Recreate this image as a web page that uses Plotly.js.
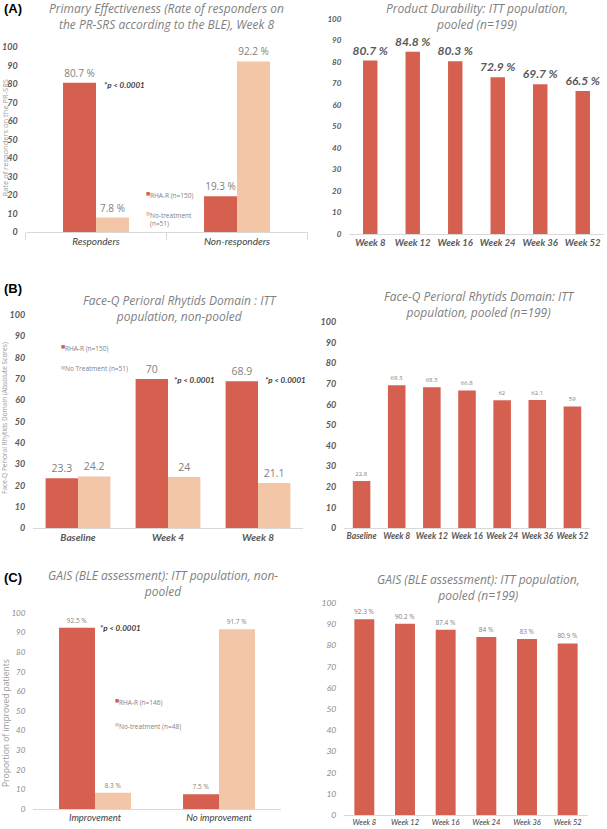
<!DOCTYPE html>
<html>
<head>
<meta charset="utf-8">
<script src="https://cdn.plot.ly/plotly-3.0.1.min.js"></script>
<style>html,body{margin:0;padding:0;background:#fff}</style>
</head>
<body>
<div id="myDiv" style="width:607px;height:829px"></div>
<script>
// (A) primary effectiveness + durability
var respCats = ['Responders', 'Non-responders'];
var respRHA = [80.7, 19.3];
var respNoTx = [7.8, 92.2];

var weeks = ['Week 8', 'Week 12', 'Week 16', 'Week 24', 'Week 36', 'Week 52'];
var durability = [80.7, 84.8, 80.3, 72.9, 69.7, 66.5];

// (B) Face-Q perioral rhytids
var faceqCats = ['Baseline', 'Week 4', 'Week 8'];
var faceqRHA = [23.3, 70, 68.9];
var faceqNoTx = [24.2, 24, 21.1];

var faceqWeeks = ['Baseline', 'Week 8', 'Week 12', 'Week 16', 'Week 24', 'Week 36', 'Week 52'];
var faceqPooled = [22.8, 69.3, 68.3, 66.8, 62, 62.1, 59];

// (C) GAIS
var gaisCats = ['Improvement', 'No improvement'];
var gaisRHA = [92.5, 7.5];
var gaisNoTx = [8.3, 91.7];
var gaisPooled = [92.3, 90.2, 87.4, 84, 83, 80.9];

var yTicks = [0, 10, 20, 30, 40, 50, 60, 70, 80, 90, 100];

var RED = '#d6604f';
var PEACH = '#f3c6a7';
var GREY = '#7f7f7f';
var DARK = '#404040';
var TFONT = '"Open Sans", sans-serif';
var LFONT = 'Lato, sans-serif';

var W = 607, H = 829;
function px(x) { return x / W; }
function py(y) { return 1 - y / H; }

function pct(arr) { return arr.map(v => v + ' %'); }
function plain(arr) { return arr.map(v => '' + v); }

function bar(x, y, ax, color, width, offset, text, tfont) {
    return {
        type: 'bar', x: x, y: y,
        xaxis: 'x' + ax, yaxis: 'y' + ax,
        width: width, offset: offset,
        marker: { color: color },
        text: text, textposition: 'outside', textfont: tfont,
        constraintext: 'none', cliponaxis: false,
        hoverinfo: 'skip', showlegend: false
    };
}

var data = [
    bar(respCats, respRHA, '', RED, 0.234, -0.234, pct(respRHA), { family: TFONT, size: 10, color: GREY }),
    bar(respCats, respNoTx, '', PEACH, 0.234, 0, pct(respNoTx), { family: TFONT, size: 10, color: GREY }),
    bar(weeks, durability, '2', RED, 0.34, -0.17, pct(durability), { family: LFONT, size: 12, color: '#595959', weight: 'bold', style: 'italic' }),
    bar(faceqCats, faceqRHA, '3', RED, 0.36, -0.36, plain(faceqRHA), { family: TFONT, size: 10.5, color: GREY }),
    bar(faceqCats, faceqNoTx, '3', PEACH, 0.36, 0, plain(faceqNoTx), { family: TFONT, size: 10.5, color: GREY }),
    bar(faceqWeeks, faceqPooled, '4', RED, 0.5, -0.25, plain(faceqPooled), { family: TFONT, size: 6, color: GREY }),
    bar(gaisCats, gaisRHA, '5', RED, 0.29, -0.29, pct(gaisRHA), { family: TFONT, size: 6.5, color: GREY }),
    bar(gaisCats, gaisNoTx, '5', PEACH, 0.29, 0, pct(gaisNoTx), { family: TFONT, size: 6.5, color: GREY }),
    bar(weeks, gaisPooled, '6', RED, 0.49, -0.245, pct(gaisPooled), { family: TFONT, size: 6.5, color: GREY })
];

function xAxis(l, r, anchor, n, font) {
    return {
        domain: [px(l), px(r)], anchor: anchor, range: [-0.5, n - 0.5],
        showline: true, linecolor: '#d9d9d9', linewidth: 1,
        showgrid: false, zeroline: false, ticks: '',
        tickfont: font, fixedrange: true
    };
}
function yAxis(bottom, top, anchor, font) {
    return {
        domain: [py(bottom), py(top)], anchor: anchor, range: [0, 100],
        tickvals: yTicks, showgrid: false, zeroline: false, showline: false,
        ticks: 'outside', ticklen: 5, tickcolor: 'rgba(0,0,0,0)',
        tickfont: font, fixedrange: true
    };
}

var boldIt = function (size, color) { return { family: LFONT, size: size, color: color, weight: 'bold', style: 'italic' }; };
var it = function (size, color) { return { family: LFONT, size: size, color: color, style: 'italic' }; };

var layout = {
    width: W, height: H,
    margin: { l: 0, r: 0, t: 0, b: 0 },
    paper_bgcolor: '#fff', plot_bgcolor: 'rgba(0,0,0,0)',
    showlegend: false,
    xaxis: Object.assign(xAxis(25.5, 307.5, 'y', 2, it(10, DARK)), { ticks: 'outside', tickson: 'boundaries', ticklen: 7, tickcolor: '#d9d9d9' }),
    yaxis: yAxis(232, 47, 'x', boldIt(9, '#595959')),
    xaxis2: xAxis(349, 604, 'y2', 6, boldIt(9.5, '#595959')),
    yaxis2: yAxis(234, 19, 'x2', boldIt(8, '#595959')),
    xaxis3: xAxis(33, 303, 'y3', 3, boldIt(10, '#595959')),
    yaxis3: yAxis(528, 315, 'x3', boldIt(9, '#595959')),
    xaxis4: xAxis(344, 590, 'y4', 7, boldIt(8.5, '#595959')),
    yaxis4: yAxis(528, 322, 'x4', boldIt(9, '#595959')),
    xaxis5: xAxis(33, 281, 'y5', 2, it(9.5, DARK)),
    yaxis5: yAxis(809, 613, 'x5', it(8, '#8c8c8c')),
    xaxis6: xAxis(344, 588, 'y6', 6, it(7.5, DARK)),
    yaxis6: yAxis(815, 603, 'x6', it(8.5, '#8c8c8c')),
    annotations: []
};

function note(x, y, text, font, opts) {
    layout.annotations.push(Object.assign({
        xref: 'paper', yref: 'paper', x: px(x), y: py(y), text: text,
        showarrow: false, font: font, xanchor: 'center', yanchor: 'middle'
    }, opts || {}));
}

var titleFont = { family: TFONT, size: 12, color: GREY, style: 'italic' };

// panel letters
note(2, 9, '(A)', { family: 'Liberation Sans, Arial', size: 13, color: '#000', weight: 'bold' }, { xanchor: 'left' });
note(2, 288, '(B)', { family: 'Liberation Sans, Arial', size: 13, color: '#000', weight: 'bold' }, { xanchor: 'left' });
note(2, 577, '(C)', { family: 'Liberation Sans, Arial', size: 13, color: '#000', weight: 'bold' }, { xanchor: 'left' });

// titles
note(166, 16, 'Primary Effectiveness (Rate of responders on<br>the PR-SRS according to the BLE), Week 8', titleFont);
note(477, 16, 'Product Durability: ITT population,<br>pooled (n=199)', titleFont);
note(180, 308, 'Face-Q Perioral Rhytids Domain : ITT<br>population, non-pooled', titleFont);
note(479, 305, 'Face-Q Perioral Rhytids Domain: ITT<br>population, pooled (n=199)', titleFont);
note(163, 583, 'GAIS (BLE assessment): ITT population, non-<br>pooled', titleFont);
note(478, 587, 'GAIS (BLE assessment): ITT population,<br>pooled (n=199)', titleFont);

// y axis titles
var axColor = '#9a9a9a';
note(4.5, 138, 'Rate of responders on the PR-SRS', { family: TFONT, size: 7.5, color: axColor }, { textangle: -90 });
note(4, 418, 'Face-Q Perioral Rhytids Domain (Absolute Scores)', { family: TFONT, size: 6.6, color: axColor }, { textangle: -90 });
note(5, 723, 'Proportion of improved patients', { family: TFONT, size: 8.5, color: axColor }, { textangle: -90 });

// legends
var legFont = { family: TFONT, size: 6.5, color: GREY };
function legend(x, y, color, label) {
    note(x, y, '■', { family: 'DejaVu Sans', size: 4.5, color: color }, { xanchor: 'left' });
    note(x + 4, y, label, legFont, { xanchor: 'left', yanchor: 'top', align: 'left', y: py(y - 4.5) });
}
legend(144, 193, RED, 'RHA-R (n=150)');
legend(144, 213, PEACH, 'No-treatment<br>(n=51)');
legend(59, 346, RED, 'RHA-R (n=150)');
legend(59, 367, PEACH, 'No Treatment (n=51)');
legend(113, 700, RED, 'RHA-R (n=146)');
legend(113, 724, PEACH, 'No-treatment (n=48)');

// p values
var pFont = { family: LFONT, size: 8, color: DARK, weight: 'bold', style: 'italic' };
note(102, 85, '*p &lt; 0.0001', pFont, { xanchor: 'left' });
note(172, 380, '*p &lt; 0.0001', pFont, { xanchor: 'left' });
note(263, 380, '*p &lt; 0.0001', pFont, { xanchor: 'left' });
note(98, 628, '*p &lt; 0.0001', pFont, { xanchor: 'left' });

Plotly.newPlot('myDiv', data, layout, { staticPlot: true });
</script>
</body>
</html>
